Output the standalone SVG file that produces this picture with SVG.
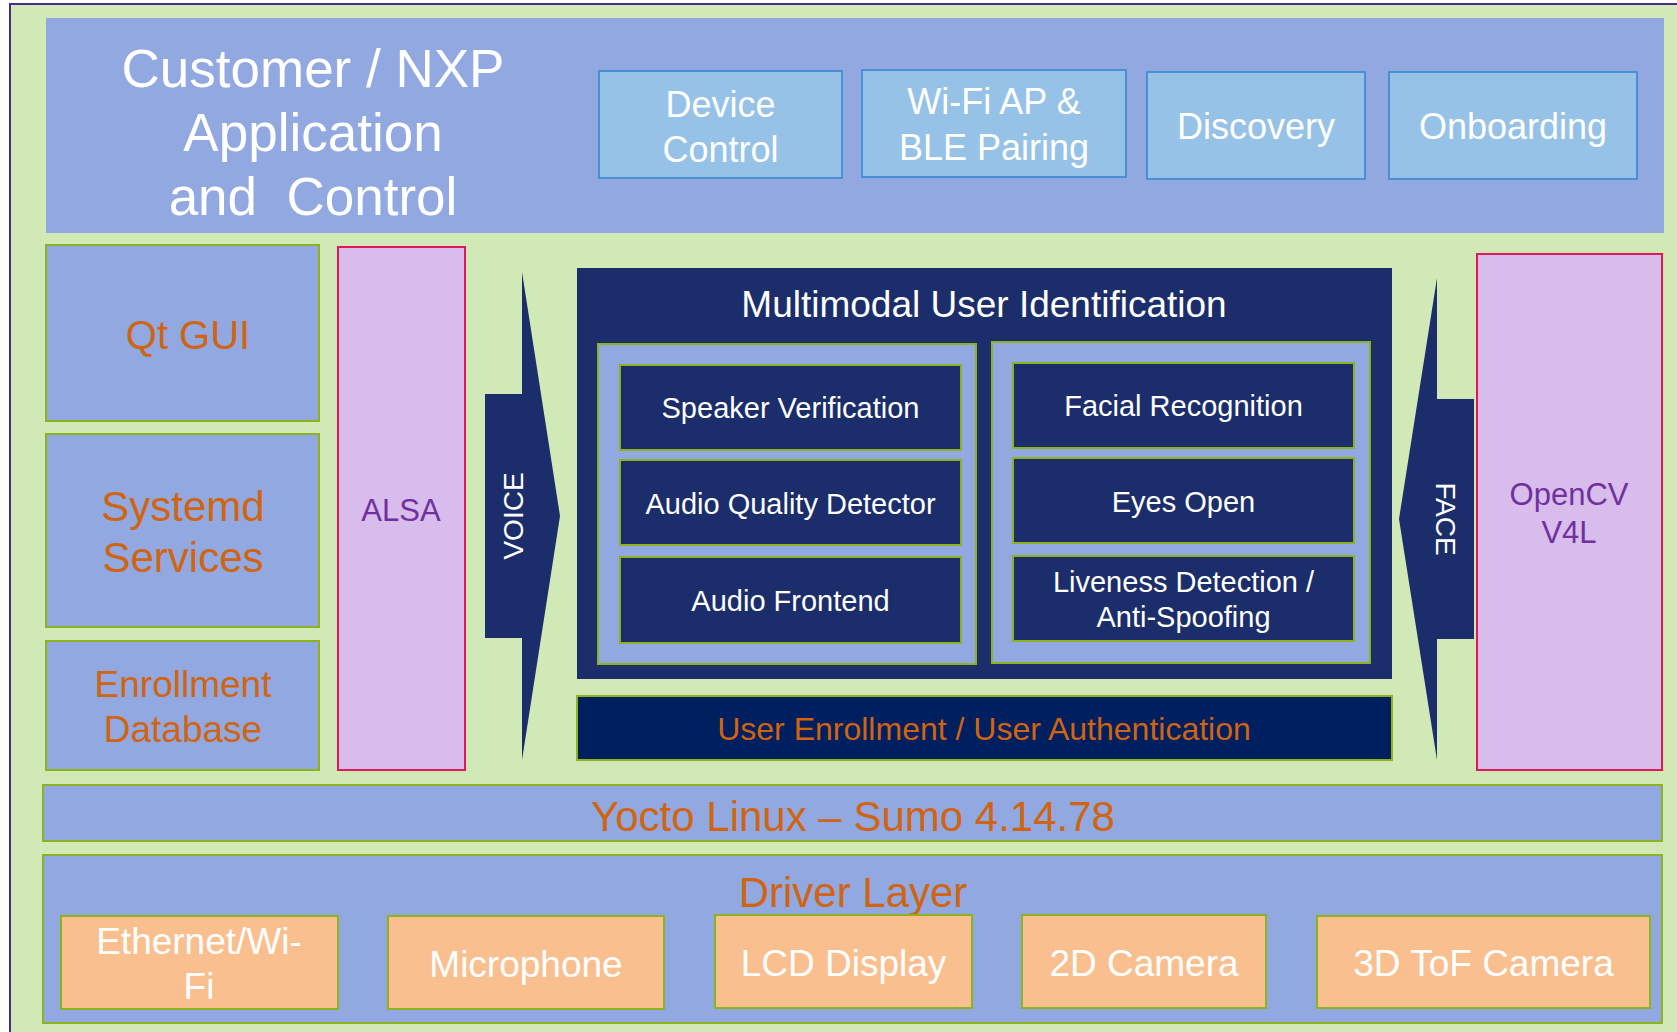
<svg xmlns="http://www.w3.org/2000/svg" width="1677" height="1032" viewBox="0 0 1677 1032">
  <style>
    text { font-family: "Liberation Sans", Arial, sans-serif; text-anchor: middle; }
    .panel { fill: #91A8E1; }
    .olive { stroke: #8CB31C; stroke-width: 2; }
    .app { fill: #95C2E6; stroke: #4A8FD4; stroke-width: 2; }
    .navy { fill: #1B2D6B; }
    .lav { fill: #D8BDEC; stroke: #E0175A; stroke-width: 2; }
    .peach { fill: #F9BF8F; }
    .w { fill: #FFFFFF; }
    .o { fill: #D06410; }
    .p { fill: #7030A0; }
  </style>

  <!-- background frame -->
  <rect x="10" y="4" width="1700" height="1100" fill="#D0E9B7" stroke="#4B2A8A" stroke-width="2"/>

  <!-- application layer -->
  <g id="app-layer">
    <rect class="panel" x="46" y="18" width="1618" height="215"/>
    <text class="w" font-size="53" x="313" y="87">Customer / NXP</text>
    <text class="w" font-size="53" x="313" y="151">Application</text>
    <text class="w" font-size="53" x="313" y="215" xml:space="preserve">and  Control</text>
  </g>
  <g id="device-control">
    <rect class="app" x="599" y="71" width="243" height="107"/>
    <text class="w" font-size="36" x="720.5" y="117">Device</text>
    <text class="w" font-size="36" x="720.5" y="162">Control</text>
  </g>
  <g id="wifi-ble">
    <rect class="app" x="862" y="70" width="264" height="107"/>
    <text class="w" font-size="36" x="994" y="114">Wi-Fi AP &amp;</text>
    <text class="w" font-size="36" x="994" y="160">BLE Pairing</text>
  </g>
  <g id="discovery">
    <rect class="app" x="1147" y="72" width="218" height="107"/>
    <text class="w" font-size="36" x="1256" y="139">Discovery</text>
  </g>
  <g id="onboarding">
    <rect class="app" x="1389" y="72" width="248" height="107"/>
    <text class="w" font-size="36" x="1513" y="139">Onboarding</text>
  </g>

  <!-- left column -->
  <g id="qt-gui">
    <rect class="panel olive" x="46" y="245" width="273" height="176"/>
    <text class="o" font-size="40" x="188" y="349">Qt GUI</text>
  </g>
  <g id="systemd">
    <rect class="panel olive" x="46" y="434" width="273" height="193"/>
    <text class="o" font-size="42" x="183" y="521">Systemd</text>
    <text class="o" font-size="42" x="183" y="572">Services</text>
  </g>
  <g id="enrollment-db">
    <rect class="panel olive" x="46" y="641" width="273" height="129"/>
    <text class="o" font-size="37" x="183" y="697">Enrollment</text>
    <text class="o" font-size="37" x="183" y="742">Database</text>
  </g>
  <g id="alsa">
    <rect class="lav" x="338" y="247" width="127" height="523"/>
    <text class="p" font-size="31" x="401" y="521">ALSA</text>
  </g>

  <!-- data paths into the identification block -->
  <g id="connectors">
    <g id="voice">
      <polygon class="navy" points="522,272 560,516 522,760 522,638 485,638 485,394 522,394"/>
      <text class="w" font-size="28" transform="translate(523,516) rotate(-90)" y="0">VOICE</text>
    </g>
    <g id="face">
      <polygon class="navy" points="1437,278 1437,399 1474,399 1474,639 1437,639 1437,760 1399,519"/>
      <text class="w" font-size="28" transform="translate(1436,519) rotate(90)" y="0">FACE</text>
    </g>
  </g>

  <!-- multimodal identification -->
  <g id="multimodal">
    <rect class="navy" x="577" y="268" width="815" height="411"/>
    <text class="w" font-size="37" x="984" y="317">Multimodal User Identification</text>
  </g>
  <g id="voice-group">
    <rect class="panel olive" x="598" y="344" width="378" height="320"/>
  </g>
  <g id="speaker-verification">
    <rect class="navy olive" x="620" y="365" width="341" height="85"/>
    <text class="w" font-size="29" x="790.5" y="418">Speaker Verification</text>
  </g>
  <g id="audio-quality">
    <rect class="navy olive" x="620" y="460" width="341" height="85"/>
    <text class="w" font-size="29" x="790.5" y="514">Audio Quality Detector</text>
  </g>
  <g id="audio-frontend">
    <rect class="navy olive" x="620" y="557" width="341" height="86"/>
    <text class="w" font-size="29" x="790.5" y="611">Audio Frontend</text>
  </g>
  <g id="face-group">
    <rect class="panel olive" x="992" y="342" width="378" height="321"/>
  </g>
  <g id="facial-recognition">
    <rect class="navy olive" x="1013" y="363" width="341" height="85"/>
    <text class="w" font-size="29" x="1183.5" y="416">Facial Recognition</text>
  </g>
  <g id="eyes-open">
    <rect class="navy olive" x="1013" y="458" width="341" height="85"/>
    <text class="w" font-size="29" x="1183.5" y="512">Eyes Open</text>
  </g>
  <g id="liveness">
    <rect class="navy olive" x="1013" y="556" width="341" height="85"/>
    <text class="w" font-size="29" x="1183.5" y="592">Liveness Detection /</text>
    <text class="w" font-size="29" x="1183.5" y="627">Anti-Spoofing</text>
  </g>
  <g id="user-enrollment">
    <rect class="olive" fill="#001F5F" x="577" y="696" width="815" height="64"/>
    <text class="o" font-size="32" x="984" y="740">User Enrollment / User Authentication</text>
  </g>

  <g id="opencv">
    <rect class="lav" x="1477" y="254" width="185" height="516"/>
    <text class="p" font-size="31" x="1569" y="505">OpenCV</text>
    <text class="p" font-size="31" x="1569" y="543">V4L</text>
  </g>

  <!-- OS and drivers -->
  <g id="yocto">
    <rect class="panel olive" x="43" y="785" width="1619" height="56"/>
    <text class="o" font-size="42" x="853" y="831">Yocto Linux – Sumo 4.14.78</text>
  </g>
  <g id="driver-layer">
    <rect class="panel olive" x="43" y="855" width="1619" height="168"/>
    <text class="o" font-size="42" x="853" y="907">Driver Layer</text>
  </g>
  <g id="ethernet">
    <rect class="peach olive" x="61" y="916" width="277" height="93"/>
    <text class="w" font-size="37" x="199" y="954">Ethernet/Wi-</text>
    <text class="w" font-size="37" x="199" y="999">Fi</text>
  </g>
  <g id="microphone">
    <rect class="peach olive" x="388" y="916" width="276" height="93"/>
    <text class="w" font-size="37" x="526" y="977">Microphone</text>
  </g>
  <g id="lcd">
    <rect class="peach olive" x="715" y="915" width="257" height="93"/>
    <text class="w" font-size="37" x="843.5" y="976">LCD Display</text>
  </g>
  <g id="camera-2d">
    <rect class="peach olive" x="1022" y="915" width="244" height="93"/>
    <text class="w" font-size="37" x="1144" y="976">2D Camera</text>
  </g>
  <g id="camera-3d">
    <rect class="peach olive" x="1317" y="916" width="333" height="92"/>
    <text class="w" font-size="37" x="1483.5" y="976">3D ToF Camera</text>
  </g>
</svg>
